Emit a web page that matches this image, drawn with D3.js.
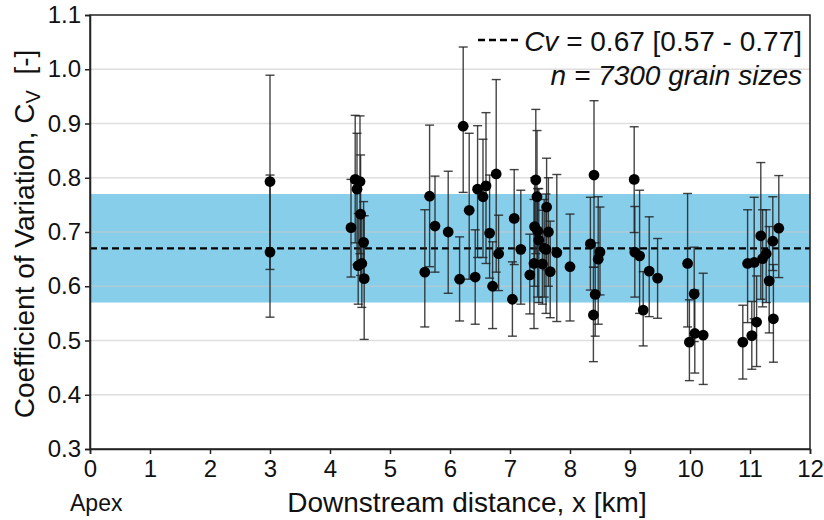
<!DOCTYPE html>
<html>
<head>
<meta charset="utf-8">
<script src="https://cdn.jsdelivr.net/npm/d3@7"></script>
<style>
  body { margin: 0; background: #fff; }
  svg { font-family: "Liberation Sans", Arial, Helvetica, sans-serif; }
</style>
</head>
<body>
<div id="chart"></div>
<script>
// valeurs
const distance = [3.00, 3.00, 4.35, 4.42, 4.45, 4.50, 4.51, 4.47, 4.53, 4.56, 4.57,
  5.58, 5.66, 5.75, 5.97, 6.16, 6.22, 6.32, 6.42, 6.46, 6.55, 6.60, 6.66, 6.71, 6.77, 6.81,
  7.04, 7.07, 7.18, 7.33, 7.40, 7.41, 7.43, 7.45, 7.46, 7.48, 7.54, 7.57, 7.60, 7.61, 7.64, 7.67, 7.78,
  8.00, 8.34, 8.40, 8.39, 8.42, 8.47, 8.50, 9.07, 9.08, 9.16, 9.22, 9.32, 9.46,
  9.96, 9.99, 10.07, 10.08, 10.22, 10.88, 10.96, 11.03, 11.07, 11.11, 11.18, 11.21, 11.27, 11.32, 11.38, 11.39, 11.48];
const cv = [0.793, 0.663, 0.708, 0.797, 0.779, 0.793, 0.733, 0.638, 0.642, 0.681, 0.614,
  0.626, 0.766, 0.711, 0.700, 0.613, 0.895, 0.740, 0.617, 0.779, 0.765, 0.785, 0.698, 0.600, 0.807, 0.660,
  0.576, 0.725, 0.668, 0.621, 0.642, 0.710, 0.796, 0.765, 0.702, 0.685, 0.641, 0.670, 0.668, 0.746, 0.700, 0.627, 0.662,
  0.636, 0.678, 0.805, 0.547, 0.585, 0.650, 0.663, 0.797, 0.663, 0.656, 0.556, 0.628, 0.615,
  0.642, 0.497, 0.586, 0.513, 0.510, 0.497, 0.642, 0.509, 0.644, 0.534, 0.693, 0.651, 0.660, 0.610, 0.683, 0.540, 0.707];
const cvLow = [0.631, 0.543, 0.617, 0.680, 0.640, 0.660, 0.620, 0.567, 0.561, 0.610, 0.502,
  0.525, 0.636, 0.626, 0.587, 0.536, 0.773, 0.613, 0.530, 0.653, 0.653, 0.642, 0.615, 0.522, 0.626, 0.592,
  0.508, 0.640, 0.567, 0.549, 0.522, 0.600, 0.660, 0.640, 0.580, 0.570, 0.567, 0.580, 0.550, 0.630, 0.600, 0.542, 0.535,
  0.536, 0.593, 0.635, 0.461, 0.508, 0.530, 0.584, 0.699, 0.580, 0.550, 0.490, 0.544, 0.541,
  0.525, 0.426, 0.498, 0.440, 0.419, 0.429, 0.533, 0.447, 0.540, 0.452, 0.576, 0.562, 0.570, 0.514, 0.629, 0.460, 0.616];
const cvHigh = [0.989, 0.805, 0.797, 0.915, 0.882, 0.914, 0.842, 0.734, 0.730, 0.756, 0.730,
  0.741, 0.897, 0.803, 0.812, 0.691, 1.041, 0.882, 0.704, 0.896, 0.871, 0.920, 0.805, 0.682, 0.981, 0.731,
  0.645, 0.815, 0.777, 0.696, 0.760, 0.800, 0.926, 0.887, 0.780, 0.780, 0.740, 0.760, 0.770, 0.836, 0.800, 0.720, 0.806,
  0.733, 0.764, 0.942, 0.635, 0.680, 0.765, 0.746, 0.894, 0.747, 0.777, 0.627, 0.728, 0.688,
  0.771, 0.575, 0.672, 0.593, 0.624, 0.565, 0.741, 0.572, 0.764, 0.619, 0.828, 0.741, 0.741, 0.710, 0.765, 0.640, 0.804];

const cvMean = 0.67, cvBand = [0.57, 0.77];
const xTicks = d3.range(0, 13);
const yTicks = [0.3, 0.4, 0.5, 0.6, 0.7, 0.8, 0.9, 1.0, 1.1];

const width = 824, height = 520;
const margin = { top: 15, right: 14, bottom: 71, left: 90 };

const svg = d3.select("#chart").append("svg")
  .attr("width", width)
  .attr("height", height);

const x = d3.scaleLinear().domain([0, 12]).range([margin.left, width - margin.right]);
const y = d3.scaleLinear().domain([0.3, 1.1]).range([height - margin.bottom, margin.top]);

// bande bleue
svg.append("rect")
  .attr("x", x(0)).attr("width", x(12) - x(0))
  .attr("y", y(cvBand[1])).attr("height", y(cvBand[0]) - y(cvBand[1]))
  .attr("fill", "#87ceeb");

// grille
svg.append("g")
  .selectAll("line")
  .data(yTicks.slice(1, -1))
  .join("line")
  .attr("x1", x(0)).attr("x2", x(12))
  .attr("y1", d => y(d)).attr("y2", d => y(d))
  .attr("stroke", "#c8c8c8")
  .attr("stroke-opacity", 0.6)
  .attr("stroke-width", 1.5);

// ligne moyenne
svg.append("line")
  .attr("x1", x(0)).attr("x2", x(12))
  .attr("y1", y(cvMean)).attr("y2", y(cvMean))
  .attr("stroke", "#000")
  .attr("stroke-width", 2.2)
  .attr("stroke-dasharray", "7,4");

const pts = distance.map((d, i) => ({ x: d, v: cv[i], lo: cvLow[i], hi: cvHigh[i] }));

// barres d'erreur
const bars = svg.append("g")
  .attr("stroke", "#222")
  .attr("stroke-opacity", 0.85)
  .attr("stroke-width", 1.4);

bars.selectAll(".stem").data(pts).join("line")
  .attr("x1", d => x(d.x)).attr("x2", d => x(d.x))
  .attr("y1", d => y(d.lo)).attr("y2", d => y(d.hi));

bars.selectAll(".capHi").data(pts).join("line")
  .attr("x1", d => x(d.x) - 4.5).attr("x2", d => x(d.x) + 4.5)
  .attr("y1", d => y(d.hi)).attr("y2", d => y(d.hi));

bars.selectAll(".capLo").data(pts).join("line")
  .attr("x1", d => x(d.x) - 4.5).attr("x2", d => x(d.x) + 4.5)
  .attr("y1", d => y(d.lo)).attr("y2", d => y(d.lo));

// points
svg.append("g")
  .selectAll("circle")
  .data(pts)
  .join("circle")
  .attr("cx", d => x(d.x))
  .attr("cy", d => y(d.v))
  .attr("r", 5.4)
  .attr("fill", "#000");

// cadre
svg.append("rect")
  .attr("x", x(0)).attr("y", y(1.1))
  .attr("width", x(12) - x(0)).attr("height", y(0.3) - y(1.1))
  .attr("fill", "none")
  .attr("stroke", "#222")
  .attr("stroke-width", 1.5);

// axes
const xAxis = svg.append("g")
  .attr("transform", `translate(0,${y(0.3)})`)
  .call(d3.axisBottom(x).tickValues(xTicks).tickFormat(d3.format("d")).tickSize(5).tickPadding(6));
const yAxis = svg.append("g")
  .attr("transform", `translate(${x(0)},0)`)
  .call(d3.axisLeft(y).tickValues(yTicks).tickFormat(d3.format(".1f")).tickSize(5).tickPadding(4));

[xAxis, yAxis].forEach(a => {
  a.select(".domain").attr("stroke", "#222").attr("stroke-width", 1.5);
  a.selectAll(".tick line").attr("stroke", "#222").attr("stroke-width", 1.5);
  a.selectAll(".tick text")
    .attr("fill", "#111")
    .style("font-size", "24px")
    .style("font-family", "'Liberation Sans', Arial, sans-serif");
});

// titres d'axes
svg.append("text")
  .attr("x", x(6) + 17).attr("y", 512)
  .attr("text-anchor", "middle")
  .style("font-size", "28px")
  .attr("fill", "#111")
  .text("Downstream distance, x [km]");

svg.append("text")
  .attr("x", 70).attr("y", 511)
  .style("font-size", "23px")
  .attr("fill", "#111")
  .text("Apex");

const yl = svg.append("text")
  .attr("transform", `translate(34,${(y(0.3) + y(1.1)) / 2 + 2}) rotate(-90)`)
  .attr("text-anchor", "middle")
  .style("font-size", "28px")
  .attr("fill", "#111");
yl.append("tspan").text("Coefficient of Variation, C");
yl.append("tspan").attr("dy", 6).style("font-size", "20px").text("V");
yl.append("tspan").attr("dy", -6).text("  [-]").attr("xml:space", "preserve");

// légende
svg.append("line")
  .attr("x1", 478).attr("x2", 522)
  .attr("y1", 40).attr("y2", 40)
  .attr("stroke", "#000")
  .attr("stroke-width", 2.5)
  .attr("stroke-dasharray", "7,4");

const l1 = svg.append("text")
  .attr("x", 802).attr("y", 51)
  .attr("text-anchor", "end")
  .style("font-size", "28px")
  .attr("fill", "#111");
l1.append("tspan").style("font-style", "italic").text("Cv");
l1.append("tspan").text(" = 0.67 [0.57 - 0.77]");

svg.append("text")
  .attr("x", 802).attr("y", 85)
  .attr("text-anchor", "end")
  .style("font-size", "28px")
  .style("font-style", "italic")
  .attr("fill", "#111")
  .text("n = 7300 grain sizes");
</script>
</body>
</html>
